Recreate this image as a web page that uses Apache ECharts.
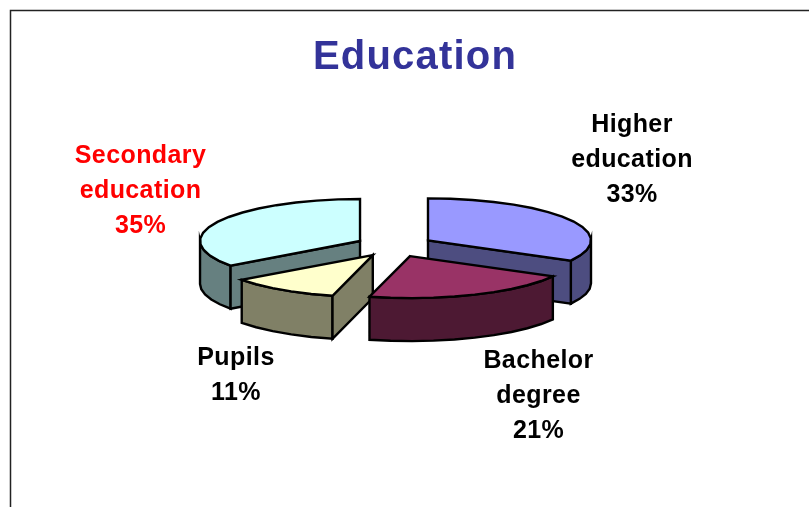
<!DOCTYPE html>
<html>
<head>
<meta charset="utf-8">
<style>html,body{margin:0;padding:0;background:#fff;overflow:hidden}#c{width:809px;height:507px}</style>
<script src="https://cdn.jsdelivr.net/npm/echarts@6/dist/echarts.min.js"></script>
</head>
<body>
<div id="c"></div>
<script>
const titleText = 'Education';
const categories = ['Higher\neducation', 'Bachelor\ndegree', 'Pupils', 'Secondary\neducation'];
const shares = [33, 21, 11, 35];
const topColors = ['#9999ff', '#993366', '#ffffcc', '#ccffff'];
const sideColors = ['#4d4d80', '#4d1933', '#808066', '#668080'];
const labelColors = ['#000000', '#000000', '#000000', '#ff0000'];
const labelCentres = [[632, 160], [538.5, 396], [236, 375.5], [140.5, 191]];
const sliceRadii = [163, 163, 162, 160];
const drawOrder = [3, 0, 2, 1];

const CX = 394.6, CY = 246, DEPTH = 43, EX = 38.8, EY = 11, STEP = 8;
const total = shares.reduce((a, b) => a + b, 0);
let acc = 0;
const spans = shares.map(v => { const s = acc / total * 360; acc += v; return [s, acc / total * 360]; });

/* The reference's text is slightly letter-spaced; keep it real text and space it at draw time. */
const nativeFill = CanvasRenderingContext2D.prototype.fillText;
CanvasRenderingContext2D.prototype.fillText = function (t, x, y, w) {
  if ('letterSpacing' in this) this.letterSpacing = this.font.indexOf('40px') >= 0 ? '1.2px' : '0.4px';
  return w === undefined ? nativeFill.call(this, t, x, y) : nativeFill.call(this, t, x, y, w);
};

const chart = echarts.init(document.getElementById('c'), null, { renderer: 'canvas' });

function arc(c, r, a0, a1) {
  const pts = [];
  const n = Math.max(1, Math.ceil((a1 - a0) / STEP));
  for (let i = 0; i <= n; i++) {
    const t = (a0 + (a1 - a0) * i / n) * Math.PI / 180;
    pts.push([c[0] + r * Math.sin(t), c[1] - 42 * Math.cos(t)]);
  }
  return pts;
}
const drop = pts => pts.map(p => [p[0], p[1] + DEPTH]);
const stroke = { stroke: '#000', lineWidth: 2.4, lineJoin: 'miter' };
const poly = (points, fill) => ({ type: 'polygon', shape: { points }, style: Object.assign({ fill }, stroke) });

function renderItem(params, api) {
  const k = api.value(0);
  const [a0, a1] = spans[k];
  const r = sliceRadii[k];
  const mid = (a0 + a1) / 2 * Math.PI / 180;
  const c = [CX + EX * Math.sin(mid), CY - EY * Math.cos(mid)];
  const side = sideColors[k];
  const kids = [];
  const v0 = Math.max(a0, 90), v1 = Math.min(a1, 270);
  if (v1 > v0) {
    const top = arc(c, r, v0, v1);
    kids.push(poly(top.concat(drop(top).reverse()), side));
  }
  const edge = a => { const p = arc(c, r, a, a + 1)[0];
    return [c, p, [p[0], p[1] + DEPTH], [c[0], c[1] + DEPTH]]; };
  if (a0 > 180 && a0 < 360) kids.push(poly(edge(a0), side));
  if (a1 > 0 && a1 < 180) kids.push(poly(edge(a1), side));
  kids.push(poly([c].concat(arc(c, r, a0, a1)), topColors[k]));
  return { type: 'group', children: kids };
}

function renderLabel(params, api) {
  const k = api.value(0);
  return {
    type: 'text',
    x: labelCentres[k][0], y: labelCentres[k][1],
    style: {
      text: categories[k] + '\n' + shares[k] + '%',
      fill: labelColors[k], align: 'center', verticalAlign: 'middle',
      font: 'bold 25px "Liberation Sans", Arial, sans-serif', lineHeight: 35
    }
  };
}

chart.setOption({
  animation: false,
  backgroundColor: '#ffffff',
  title: {
    text: titleText, left: 410, top: 33, textAlign: 'center',
    textStyle: { color: '#333399', fontSize: 40, fontWeight: 'bold', fontFamily: '"Liberation Sans", Arial, sans-serif' }
  },
  graphic: [
    { type: 'polyline', silent: true, shape: { points: [[10.5, 507], [10.5, 10.5], [809, 10.5]] },
      style: { stroke: '#222', lineWidth: 1.5, fill: null } }
  ],
  series: [
    { type: 'custom', coordinateSystem: 'none', renderItem, clip: false, silent: true,
      data: drawOrder.map(i => [i, shares[i]]) },
    { type: 'custom', coordinateSystem: 'none', renderItem: renderLabel, clip: false, silent: true,
      data: categories.map((n, i) => [i, shares[i]]) }
  ]
});
</script>
</body>
</html>
